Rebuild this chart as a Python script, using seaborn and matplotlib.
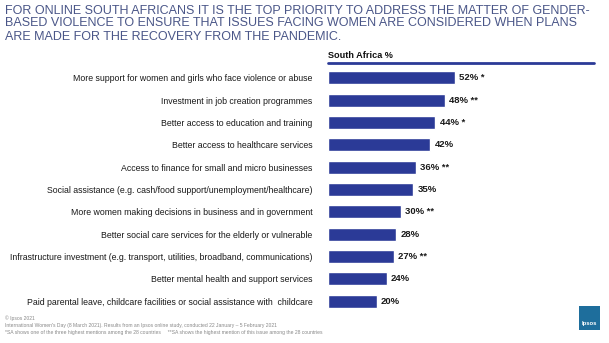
import matplotlib
matplotlib.use("Agg")
import matplotlib.pyplot as plt
import seaborn as sns
import pandas as pd
from matplotlib.lines import Line2D
from matplotlib.patches import FancyBboxPatch

categories = [
    "More support for women and girls who face violence or abuse",
    "Investment in job creation programmes",
    "Better access to education and training",
    "Better access to healthcare services",
    "Access to finance for small and micro businesses",
    "Social assistance (e.g. cash/food support/unemployment/healthcare)",
    "More women making decisions in business and in government",
    "Better social care services for the elderly or vulnerable",
    "Infrastructure investment (e.g. transport, utilities, broadband, communications)",
    "Better mental health and support services",
    "Paid parental leave, childcare facilities or social assistance with  childcare",
]
values = [52, 48, 44, 42, 36, 35, 30, 28, 27, 24, 20]
markers = ["*", "**", "*", "", "**", "", "**", "", "**", "", ""]

title_lines = [
    "FOR ONLINE SOUTH AFRICANS IT IS THE TOP PRIORITY TO ADDRESS THE MATTER OF GENDER-",
    "BASED VIOLENCE TO ENSURE THAT ISSUES FACING WOMEN ARE CONSIDERED WHEN PLANS",
    "ARE MADE FOR THE RECOVERY FROM THE PANDEMIC.",
]
series_name = "South Africa %"
footer = [
    "© Ipsos 2021",
    "International Women's Day (8 March 2021). Results from an Ipsos online study, conducted 22 January – 5 February 2021",
    "*SA shows one of the three highest mentions among the 28 countries     **SA shows the highest mention of this issue among the 28 countries",
]

sns.set_theme(style="white")
plt.rcParams['font.family'] = ['Liberation Sans', 'DejaVu Sans']

df = pd.DataFrame({"cat": categories, "val": values})

W, H = 609, 343
fig = plt.figure(figsize=(W / 100, H / 100), dpi=100)
ax = fig.add_axes([328 / W, 1 - 312.2 / H, 266 / W, (312.2 - 65.7) / H])

bar_color = "#2B3A97"
sns.barplot(data=df, y="cat", x="val", orient="h", color=bar_color,
            saturation=1, width=0.58, ax=ax)
ax.set_xlim(0, 109)
ax.set_ylim(10.5, -0.55)
ax.set_xlabel("")
ax.set_ylabel("")
ax.set_xticks([])
for s in ax.spines.values():
    s.set_visible(False)
ax.tick_params(axis="y", length=0, pad=11, labelsize=6.3, labelcolor="#1a1a1a")

for i, (v, m) in enumerate(zip(values, markers)):
    lab = f"{v}%" + (f" {m}" if m else "")
    ax.text(v + 1.7, i, lab, va="center", ha="left", fontsize=6.8,
            fontweight="bold", color="#1a1a1a")

# Header of series
fig.text(328 / W, 1 - 55 / H, series_name, fontsize=6.6, fontweight="bold",
         color="#111111", va="center", ha="left")
fig.add_artist(Line2D([328 / W, 594 / W], [1 - 63 / H, 1 - 63 / H],
                      color=bar_color, linewidth=2.0, transform=fig.transFigure))

# Title
for k, line in enumerate(title_lines):
    fig.text(5 / W, 1 - (13.5 + 13 * k) / H, line, fontsize=9.0, color="#4A5688",
             va="baseline", ha="left")

# Footer
for k, line in enumerate(footer):
    fig.text(5 / W, 1 - (318 + k * 7.3) / H, line, fontsize=3.6,
             color="#888888", va="center", ha="left")

# Logo
logo = FancyBboxPatch((579 / W, 1 - 330 / H), 21 / W, 24 / H,
                      boxstyle="square,pad=0", transform=fig.transFigure,
                      facecolor="#1E6E9C", edgecolor="none")
fig.add_artist(logo)
fig.text(589.5 / W, 1 - 323 / H, "Ipsos", fontsize=4.2, color="white",
         ha="center", va="center", fontweight="bold")

fig.savefig("out.png", dpi=100)
